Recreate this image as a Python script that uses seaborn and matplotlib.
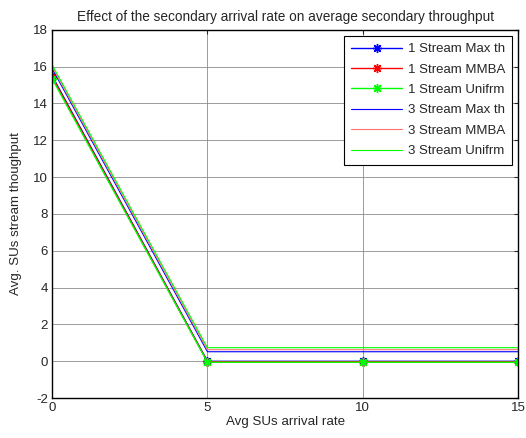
import matplotlib
matplotlib.use("Agg")
import matplotlib.pyplot as plt
import seaborn as sns
import pandas as pd

x = [0, 5, 10, 15]
s1_max = [15.5, 0.0, 0.0, 0.0]
s1_mmba = [15.45, -0.02, -0.02, -0.02]
s1_unif = [15.35, -0.05, -0.05, -0.05]
s3_max = [15.9, 0.52, 0.52, 0.52]
s3_mmba = [16.0, 0.63, 0.63, 0.63]
s3_unif = [16.1, 0.74, 0.74, 0.74]

series = [
    ("1 Stream Max th", s1_max, "#0000ff", (8, 2, 0), 1.0),
    ("1 Stream MMBA", s1_mmba, "#ff0000", (8, 2, 0), 1.0),
    ("1 Stream Unifrm", s1_unif, "#00ff00", (8, 2, 0), 1.0),
    ("3 Stream Max th", s3_max, "#0000ff", None, 0.8),
    ("3 Stream MMBA", s3_mmba, "#ff7070", None, 0.8),
    ("3 Stream Unifrm", s3_unif, "#00ff00", None, 0.8),
]

sns.set_style("white")
plt.rcParams['font.family'] = ['Liberation Sans', 'DejaVu Sans']
plt.rcParams['axes.unicode_minus'] = False

fig = plt.figure(figsize=(5.26, 4.38), dpi=100)
ax = fig.add_axes([0.099, 0.091, 0.886, 0.841])

for name, vals, col, mk, lw in series:
    df = pd.DataFrame({"x": x, "y": vals})
    sns.lineplot(data=df, x="x", y="y", ax=ax, color=col, marker=mk,
                 markersize=6.5 if mk else 0, markeredgecolor=col, markerfacecolor=col,
                 markeredgewidth=1.0,
                 linewidth=lw, label=name)

ax.set_xlim(0, 15)
ax.set_ylim(-2, 18)
ax.set_xticks([0, 5, 10, 15])
ax.set_yticks(range(-2, 19, 2))
ax.grid(True, color="#8c8c8c", linewidth=0.6)
ax.tick_params(direction="in", labelsize=9.5, top=True, right=True, length=3, pad=3)
for sp in ax.spines.values():
    sp.set_color("black")
    sp.set_linewidth(1.0)
ax.set_xlabel("Avg SUs arrival rate", fontsize=9.6, labelpad=1)
ax.set_ylabel("Avg. SUs stream thoughput", fontsize=9.6, labelpad=8)
ax.set_title("Effect of the secondary arrival rate on average secondary throughput", fontsize=9.8, pad=6)
leg = ax.legend(loc="upper right", fontsize=9.5, frameon=True, fancybox=False,
                edgecolor="black", framealpha=1, borderaxespad=0.45, handlelength=3.9,
                handletextpad=0.4, labelspacing=0.62, borderpad=0.55)
leg.get_frame().set_linewidth(0.8)
fig.savefig("out.png", dpi=100)
